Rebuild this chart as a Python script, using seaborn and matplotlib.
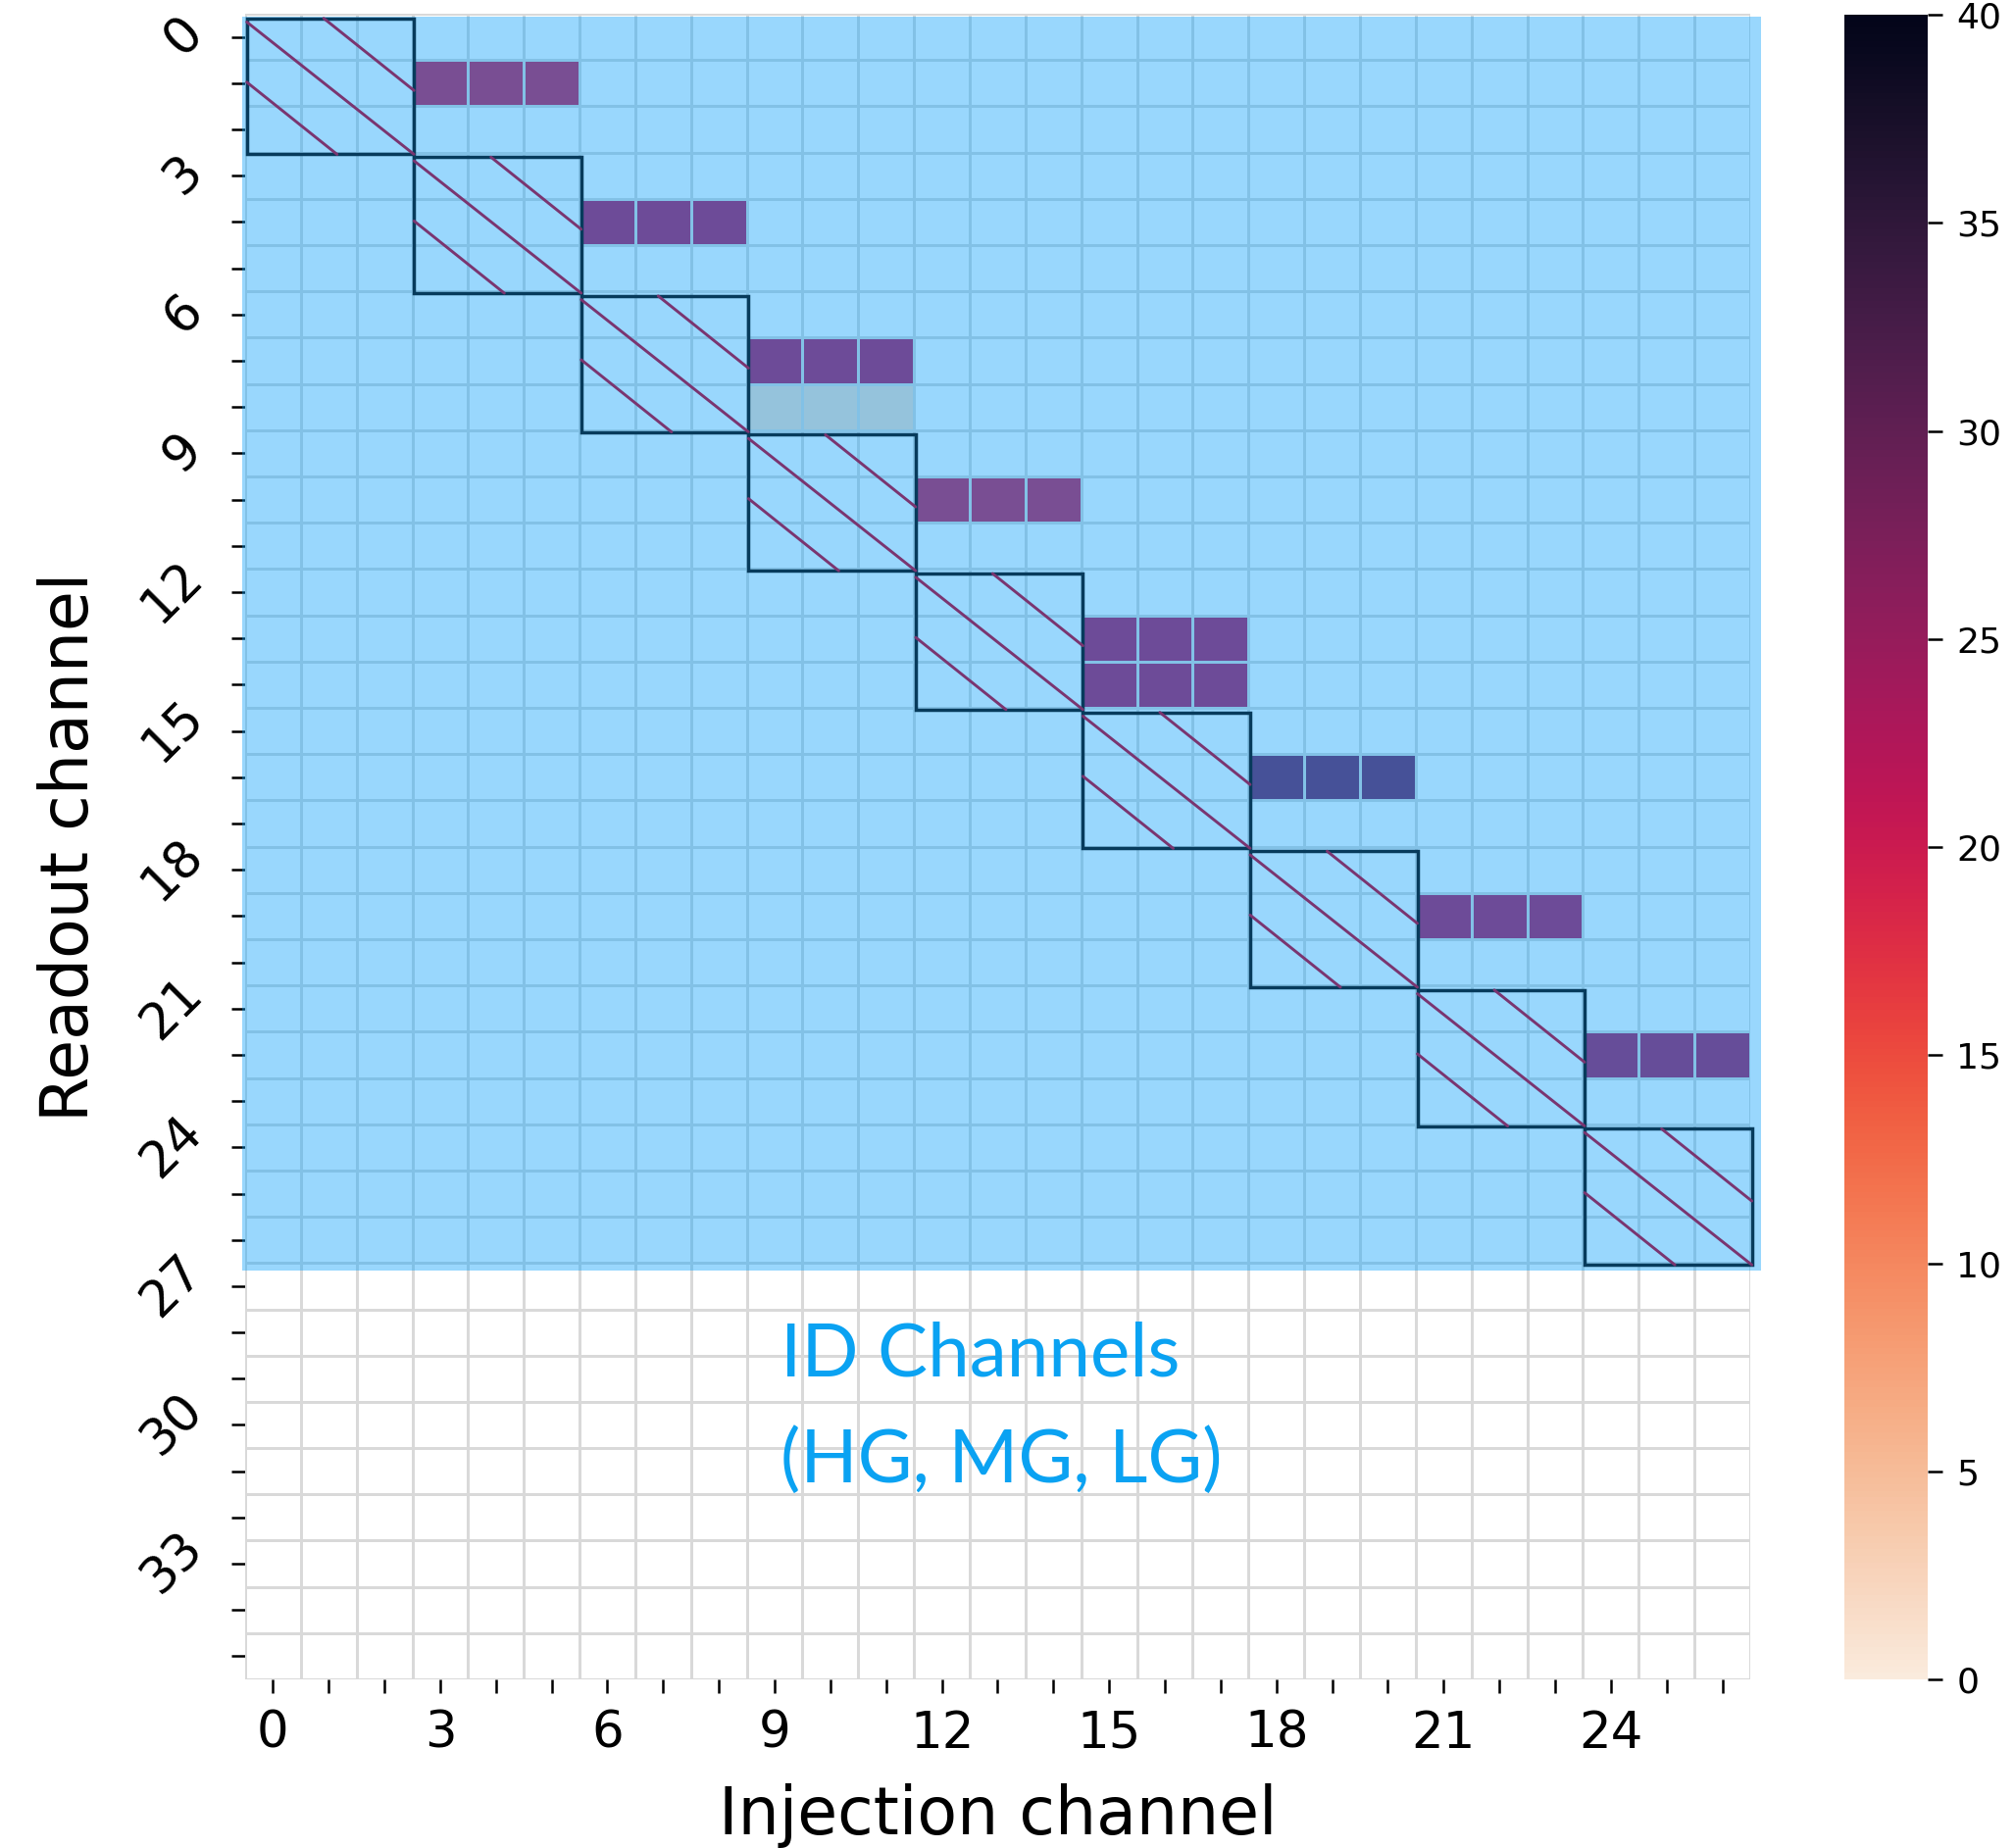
import numpy as np
import pandas as pd
import matplotlib
matplotlib.use("Agg")
import matplotlib.pyplot as plt
import seaborn as sns
from matplotlib.patches import Rectangle

# ---------------- data ----------------
n_injection = 27
n_readout = 36
n_id_rows = 27
block_starts = [0, 3, 6, 9, 12, 15, 18, 21, 24]
block_size = 3

xtalk_rows = [1, 4, 7, 8, 10, 13, 14, 16, 19, 22]
xtalk_cols = [[3, 4, 5], [6, 7, 8], [9, 10, 11], [9, 10, 11], [12, 13, 14],
              [15, 16, 17], [15, 16, 17], [18, 19, 20], [21, 22, 23], [24, 25, 26]]
xtalk_vals = [[20, 20, 20], [22, 22, 22], [22, 22, 22], [1.5, 1.5, 1.5], [20, 20, 20],
              [22, 22, 22], [22, 22, 22], [28, 28, 28], [22, 22, 22], [23, 23, 23]]

xtick_labels = [str(i) if i % 3 == 0 else "" for i in range(n_injection)]
ytick_labels = [str(i) if i % 3 == 0 else "" for i in range(n_readout)]
cbar_ticks = [0, 5, 10, 15, 20, 25, 30, 35, 40]
x_title = "Injection channel"
y_title = "Readout channel"
note_lines = ["ID Channels", "(HG, MG, LG)"]

# ---------------- build matrix ----------------
data = np.full((n_readout, n_injection), np.nan)
for r, cols, vals in zip(xtalk_rows, xtalk_cols, xtalk_vals):
    for c, v in zip(cols, vals):
        data[r, c] = v
df = pd.DataFrame(data)

sns.set_style("white")
plt.rcParams["font.family"] = ["DejaVu Sans"]
plt.rcParams["text.color"] = "black"
plt.rcParams["axes.labelcolor"] = "black"
plt.rcParams["xtick.color"] = "black"
plt.rcParams["ytick.color"] = "black"

fig = plt.figure(figsize=(20.54, 18.85), dpi=100)
ax = fig.add_axes([0.1217, 0.0912, 0.7473, 0.9014])
cax = fig.add_axes([0.9158, 0.0912, 0.0414, 0.9008])

grid_col = "#d9d9d9"
# full cell grid (visible also where cells are empty)
ax.hlines(np.arange(n_readout + 1), 0, n_injection, colors=grid_col, lw=2, zorder=0.5)
ax.vlines(np.arange(n_injection + 1), 0, n_readout, colors=grid_col, lw=2, zorder=0.5)

sns.heatmap(df, ax=ax, cbar_ax=cax, cmap="rocket_r", vmin=0, vmax=40,
            linewidths=2, linecolor=grid_col,
            xticklabels=xtick_labels, yticklabels=ytick_labels,
            cbar_kws={"ticks": cbar_ticks})

# light-blue overlay over the readout channels that carry data
ax.add_patch(Rectangle((-0.06, 0.06), n_injection + 0.25, n_id_rows + 0.11,
                       facecolor="#009dfa", alpha=0.4, edgecolor="none",
                       zorder=2, clip_on=False))

# diagonal (self-injection) blocks with diagonal hatch lines
hatch_col = "#7a3570"
for b in block_starts:
    s = block_size
    x0, y0 = b + 0.03, b + 0.1
    w, h = s, s - 0.06
    ax.add_patch(Rectangle((x0, y0), w, h, fill=False, edgecolor="#073b5c",
                           lw=2.5, zorder=3, clip_on=False))
    ax.plot([x0, x0 + w], [y0 + 0.08, y0 + h], color=hatch_col, lw=2.1,
            zorder=3, clip_on=False)
    off = 0.46 * s
    ax.plot([x0 + off, x0 + w], [y0, y0 + h - off], color=hatch_col, lw=2.1,
            zorder=3, clip_on=False)
    ax.plot([x0, x0 + w - off], [y0 + off, y0 + h], color=hatch_col, lw=2.1,
            zorder=3, clip_on=False)

ax.set_xlim(0, n_injection)
ax.set_ylim(n_readout, 0)

ax.tick_params(axis="both", bottom=True, left=True, length=10, width=1.8,
               labelsize=37, color="black", labelcolor="black")
ax.tick_params(axis="y", pad=14)
ax.tick_params(axis="x", pad=12)
plt.setp(ax.get_xticklabels(), rotation=0)
plt.setp(ax.get_yticklabels(), rotation=45, ha="right", va="center")

ax.set_xlabel(x_title, fontsize=48, labelpad=18, color="black")
ax.set_ylabel(y_title, fontsize=48, labelpad=22, color="black")

cax.tick_params(right=True, labelsize=26, length=11, width=1.8, pad=10,
                color="black", labelcolor="black")

# annotation for the ID channels
ax.text(9.6, 29.45, note_lines[0], fontsize=55, color="#0aa2f2",
        family=["Lato", "DejaVu Sans"], ha="left", va="baseline", zorder=4)
ax.text(9.6, 31.74, note_lines[1], fontsize=55, color="#0aa2f2",
        family=["Lato", "DejaVu Sans"], ha="left", va="baseline", zorder=4)

fig.savefig("out.png", dpi=100)
